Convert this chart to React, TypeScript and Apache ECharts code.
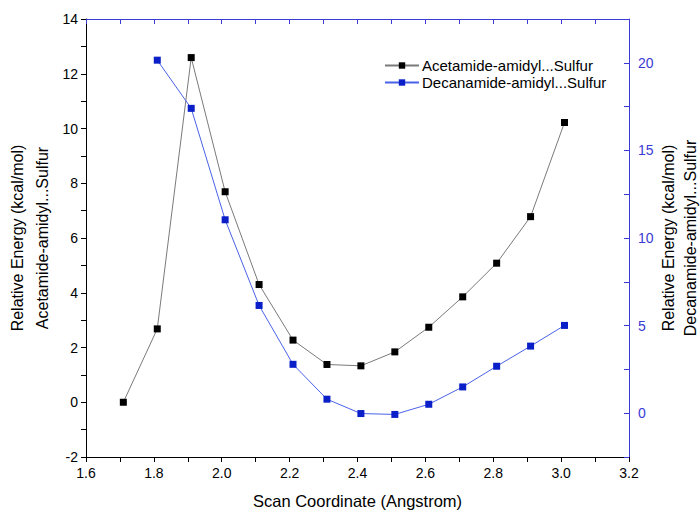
import React, { useEffect, useRef } from "react";
import * as echarts from "echarts";

const xValues = [1.71, 1.81, 1.91, 2.01, 2.11, 2.21, 2.31, 2.41, 2.51, 2.61, 2.71, 2.81, 2.91, 3.01];
const acetamide = [0.0, 2.68, 12.59, 7.69, 4.3, 2.27, 1.38, 1.33, 1.84, 2.74, 3.85, 5.08, 6.78, 10.22];
const decanX = [1.81, 1.91, 2.01, 2.11, 2.21, 2.31, 2.41, 2.51, 2.61, 2.71, 2.81, 2.91, 3.01];
const decanamide = [20.15, 17.4, 11.04, 6.15, 2.79, 0.8, -0.02, -0.07, 0.51, 1.5, 2.68, 3.83, 5.01];
const seriesNames = ["Acetamide-amidyl...Sulfur", "Decanamide-amidyl...Sulfur"];

const FONT = "Liberation Sans, Arial, sans-serif";
const BLUE_AXIS = "#3a3ad6";

export default function App() {
  const ref = useRef<HTMLDivElement>(null);
  useEffect(() => {
    const chart = echarts.init(ref.current!, null, { renderer: "svg" });
    const option: any = {
      animation: false,
      backgroundColor: "#ffffff",
      textStyle: { fontFamily: FONT },
      grid: { left: 86, right: 71, top: 19, bottom: 53, outerBoundsMode: "none", containLabel: false },
      legend: {
        orient: "vertical",
        left: 379,
        top: 53,
        itemWidth: 34,
        itemHeight: 8,
        itemGap: 2,
        textStyle: { fontSize: 15, color: "#000", fontFamily: FONT, padding: [0, 0, 0, -2] },
        data: seriesNames,
      },
      xAxis: [
        {
          type: "value",
          min: 1.6,
          max: 3.2,
          interval: 0.2,
          name: "Scan Coordinate (Angstrom)",
          nameLocation: "middle",
          nameGap: 35,
          nameMoveOverlap: false,
          nameTextStyle: { fontSize: 16.5, color: "#000", fontFamily: FONT },
          axisLine: { onZero: false, lineStyle: { color: "#000", width: 1 } },
          axisTick: { length: 5, lineStyle: { color: "#000" } },
          minorTick: { show: true, splitNumber: 2, length: 5, lineStyle: { color: "#000" } },
          axisLabel: {
            fontSize: 14,
            color: "#000",
            margin: 9,
            fontFamily: FONT,
            formatter: (v: number) => v.toFixed(1),
          },
          splitLine: { show: false },
        },
        {
          type: "value",
          position: "top",
          min: 1.6,
          max: 3.2,
          interval: 0.2,
          axisLine: { onZero: false, lineStyle: { color: BLUE_AXIS, width: 1 } },
          axisTick: { inside: true, length: 5, lineStyle: { color: BLUE_AXIS } },
          minorTick: { show: true, splitNumber: 2, length: 5, lineStyle: { color: BLUE_AXIS } },
          axisLabel: { show: false },
          splitLine: { show: false },
        },
      ],
      yAxis: [
        {
          type: "value",
          position: "left",
          min: -2,
          max: 14,
          interval: 2,
          name: "Relative Energy (kcal/mol)\nAcetamide-amidyl...Sulfur",
          nameLocation: "middle",
          nameRotate: 90,
          nameGap: 31,
          nameMoveOverlap: false,
          nameTextStyle: { fontSize: 16, color: "#000", lineHeight: 25, fontFamily: FONT },
          axisLine: { show: true, onZero: false, lineStyle: { color: "#000", width: 1 } },
          axisTick: { length: 5, lineStyle: { color: "#000" } },
          minorTick: { show: true, splitNumber: 2, length: 5, lineStyle: { color: "#000" } },
          axisLabel: { fontSize: 14, color: "#000", margin: 8, fontFamily: FONT },
          splitLine: { show: false },
        },
        {
          type: "value",
          position: "right",
          min: -2.5,
          max: 22.5,
          interval: 2.5,
          name: "Relative Energy (kcal/mol)\nDecanamide-amidyl...Sulfur",
          nameLocation: "middle",
          nameRotate: 90,
          nameGap: 28,
          nameMoveOverlap: false,
          nameTextStyle: { fontSize: 16, color: "#000", lineHeight: 22, fontFamily: FONT },
          axisLine: { show: true, onZero: false, lineStyle: { color: BLUE_AXIS, width: 1 } },
          axisTick: { inside: true, length: 5, lineStyle: { color: BLUE_AXIS } },
          axisLabel: {
            fontSize: 14,
            color: BLUE_AXIS,
            margin: 9,
            fontFamily: FONT,
            formatter: (v: number) => (Math.abs(v % 5) < 1e-9 && v >= 0 && v <= 20 ? String(v) : ""),
          },
          splitLine: { show: false },
        },
      ],
      series: [
        {
          name: seriesNames[0],
          type: "line",
          xAxisIndex: 0,
          yAxisIndex: 0,
          data: xValues.map((x, i) => [x, acetamide[i]]),
          symbol: "rect",
          symbolSize: 7,
          itemStyle: { color: "#000000" },
          lineStyle: { color: "#7a7a7a", width: 1 },
        },
        {
          name: seriesNames[1],
          type: "line",
          xAxisIndex: 0,
          yAxisIndex: 1,
          data: decanX.map((x, i) => [x, decanamide[i]]),
          symbol: "rect",
          symbolSize: 7,
          itemStyle: { color: "#0a1fc8" },
          lineStyle: { color: "#4a62e8", width: 1 },
        },
      ],
    };
    chart.setOption(option);
    return () => chart.dispose();
  }, []);
  return <div ref={ref} style={{ width: 700, height: 510, position: "absolute", left: 0, top: 0 }} />;
}
